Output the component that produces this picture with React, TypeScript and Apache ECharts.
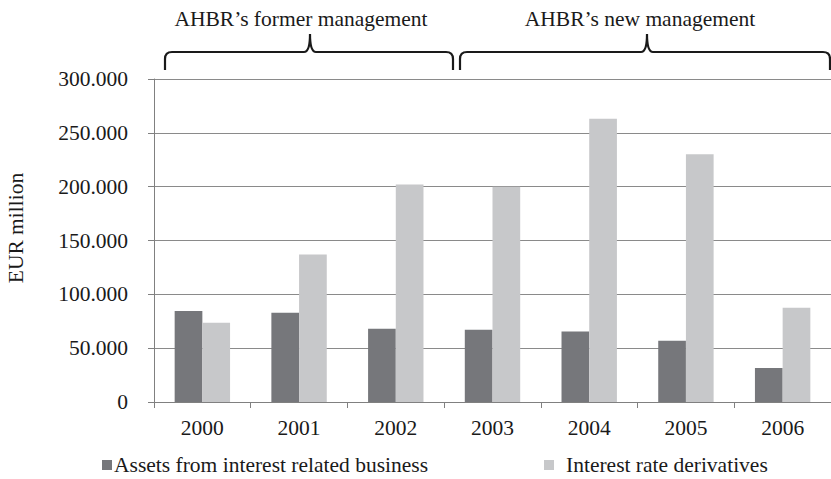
import React, { useEffect, useRef } from "react";
import * as echarts from "echarts";

const categories = ["2000", "2001", "2002", "2003", "2004", "2005", "2006"];
const assetsSeries = [84500, 83000, 68000, 67000, 65500, 57000, 31500];
const derivativesSeries = [73500, 137000, 202000, 200000, 263000, 230000, 87500];
const seriesNames = ["Assets from interest related business", "Interest rate derivatives"];
const bracketLabels = ["AHBR\u2019s former management", "AHBR\u2019s new management"];
const yAxisTitle = "EUR million";

const FONT = "Liberation Serif";
const FS = 21.5;

function bracePath(x1: number, x2: number, xm: number, yTop: number, yBottom: number, yTip: number, r: number) {
  return [
    `M${x1},${yBottom}`,
    `L${x1},${yTop + r}`,
    `Q${x1},${yTop} ${x1 + r},${yTop}`,
    `L${xm - 6},${yTop}`,
    `Q${xm},${yTop} ${xm},${yTip}`,
    `Q${xm},${yTop} ${xm + 6},${yTop}`,
    `L${x2 - r},${yTop}`,
    `Q${x2},${yTop} ${x2},${yTop + r}`,
    `L${x2},${yBottom}`,
  ].join(" ");
}

let registered = false;
function registerBraces() {
  if (registered) return;
  registered = true;
  echarts.graphic.registerShape("braceA", echarts.graphic.extendPath(bracePath(165, 453, 310, 52, 70, 34, 7), {}));
  echarts.graphic.registerShape("braceB", echarts.graphic.extendPath(bracePath(460, 830, 647, 52, 70, 34, 7), {}));
}

function fmt(v: number) {
  return String(v).replace(/\B(?=(\d{3})+(?!\d))/g, ".");
}

export default function App() {
  const ref = useRef<HTMLDivElement>(null);
  useEffect(() => {
    if (!ref.current) return;
    registerBraces();
    const chart = echarts.init(ref.current, undefined, { renderer: "svg" });
    const textBase = { fontFamily: FONT, fontSize: FS, color: "#1a1a1a" };
    chart.setOption({
      animation: false,
      backgroundColor: "#ffffff",
      textStyle: { fontFamily: FONT },
      grid: { left: 154, right: -6, top: 79, bottom: 77, containLabel: false },
      xAxis: {
        type: "category",
        data: categories,
        axisLine: { lineStyle: { color: "#808080", width: 1 } },
        axisTick: { show: true, length: 6, lineStyle: { color: "#808080" } },
        axisLabel: { ...textBase, margin: 15 },
        splitLine: { show: false },
      },
      yAxis: {
        type: "value",
        min: 0,
        max: 300000,
        interval: 50000,
        axisLine: { show: true, lineStyle: { color: "#808080", width: 1 } },
        axisTick: { show: true, length: 6, lineStyle: { color: "#808080" } },
        axisLabel: { ...textBase, margin: 26, formatter: (v: number) => fmt(v) },
        splitLine: { show: true, lineStyle: { color: "#8a8a8a", width: 1 } },
      },
      legend: [
        {
          data: [seriesNames[0]],
          left: 102,
          top: 454,
          padding: 0,
          icon: "rect",
          itemWidth: 10,
          itemHeight: 10,
          textStyle: { ...textBase, padding: [0, 0, 0, -3] },
        },
        {
          data: [seriesNames[1]],
          left: 544,
          top: 454,
          padding: 0,
          icon: "rect",
          itemWidth: 10,
          itemHeight: 10,
          textStyle: { ...textBase, padding: [0, 0, 0, 7] },
        },
      ],
      series: [
        {
          name: seriesNames[0],
          type: "bar",
          data: assetsSeries,
          barWidth: 27.7,
          barGap: "0%",
          itemStyle: { color: "#76777b" },
        },
        {
          name: seriesNames[1],
          type: "bar",
          data: derivativesSeries,
          barWidth: 27.7,
          barGap: "0%",
          itemStyle: { color: "#c7c8ca" },
        },
      ],
      graphic: [
        {
          type: "text",
          x: 16,
          y: 228,
          rotation: Math.PI / 2,
          style: { text: yAxisTitle, fontFamily: FONT, fontSize: FS, fill: "#1a1a1a", align: "center", verticalAlign: "middle" },
        },
        {
          type: "text",
          x: 301,
          y: 19,
          style: { text: bracketLabels[0], fontFamily: FONT, fontSize: FS, fill: "#1a1a1a", align: "center", verticalAlign: "middle" },
        },
        {
          type: "text",
          x: 640,
          y: 19,
          style: { text: bracketLabels[1], fontFamily: FONT, fontSize: FS, fill: "#1a1a1a", align: "center", verticalAlign: "middle" },
        },
        { type: "braceA", x: 0, y: 0, style: { stroke: "#1a1a1a", fill: null, lineWidth: 2.2 } },
        { type: "braceB", x: 0, y: 0, style: { stroke: "#1a1a1a", fill: null, lineWidth: 2.2 } },
      ],
    });
    return () => chart.dispose();
  }, []);
  return (
    <div
      ref={ref}
      style={{ position: "fixed", left: 0, top: 0, width: 831, height: 479, background: "#fff" }}
    />
  );
}
